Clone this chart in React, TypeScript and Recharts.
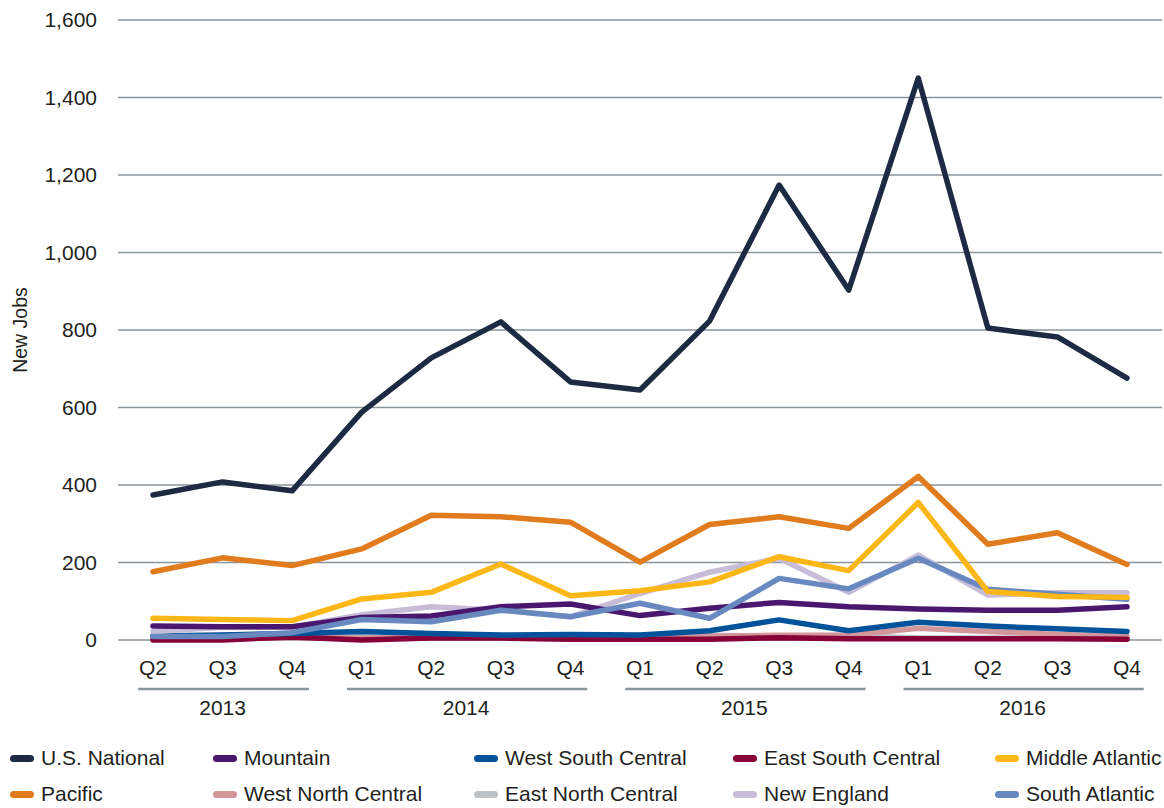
import { LineChart, Line, XAxis, YAxis, CartesianGrid, Legend } from "recharts";

const quarters = ["Q2", "Q3", "Q4", "Q1", "Q2", "Q3", "Q4", "Q1", "Q2", "Q3", "Q4", "Q1", "Q2", "Q3", "Q4"];
const years = ["2013", "2013", "2013", "2014", "2014", "2014", "2014", "2015", "2015", "2015", "2015", "2016", "2016", "2016", "2016"];

const usNational = [374, 408, 385, 588, 728, 821, 666, 645, 823, 1174, 903, 1450, 805, 782, 676];
const mountain = [36, 34, 34, 58, 62, 86, 93, 63, 82, 97, 86, 80, 77, 77, 86];
const westSouthCentral = [10, 13, 17, 22, 17, 13, 14, 13, 24, 52, 24, 46, 36, 29, 22];
const eastSouthCentral = [0, 0, 8, 0, 5, 5, 2, 2, 2, 6, 3, 3, 3, 3, 2];
const middleAtlantic = [56, 53, 50, 106, 123, 196, 114, 127, 150, 215, 179, 355, 125, 112, 110];
const pacific = [176, 212, 192, 235, 322, 318, 304, 201, 298, 318, 288, 422, 247, 277, 195];
const westNorthCentral = [5, 5, 6, 5, 8, 10, 5, 5, 10, 12, 12, 30, 22, 14, 10];
const eastNorthCentral = [12, 12, 12, 8, 8, 10, 8, 10, 12, 10, 12, 5, 5, 5, 5];
const newEngland = [22, 33, 33, 65, 86, 77, 60, 120, 175, 211, 123, 219, 116, 122, 122];
const southAtlantic = [9, 9, 19, 53, 47, 77, 60, 95, 56, 159, 132, 211, 131, 118, 105];

const yTicks = [0, 200, 400, 600, 800, 1000, 1200, 1400, 1600];

const series = [
  { key: "usNational", name: "U.S. National", color: "#1c2a43", values: usNational },
  { key: "mountain", name: "Mountain", color: "#4a176e", values: mountain },
  { key: "westSouthCentral", name: "West South Central", color: "#00539b", values: westSouthCentral },
  { key: "eastSouthCentral", name: "East South Central", color: "#870038", values: eastSouthCentral },
  { key: "middleAtlantic", name: "Middle Atlantic", color: "#fdb717", values: middleAtlantic },
  { key: "pacific", name: "Pacific", color: "#e07c1e", values: pacific },
  { key: "westNorthCentral", name: "West North Central", color: "#d3969b", values: westNorthCentral },
  { key: "eastNorthCentral", name: "East North Central", color: "#bcc2c6", values: eastNorthCentral },
  { key: "newEngland", name: "New England", color: "#c8bdd9", values: newEngland },
  { key: "southAtlantic", name: "South Atlantic", color: "#6888c0", values: southAtlantic },
];

// painting order, bottom first
const drawOrder = [
  "eastNorthCentral",
  "westNorthCentral",
  "eastSouthCentral",
  "westSouthCentral",
  "newEngland",
  "mountain",
  "southAtlantic",
  "middleAtlantic",
  "pacific",
  "usNational",
];

const data = quarters.map((q, i) => {
  const row: Record<string, number | string> = { q: `${q}-${years[i]}`, label: q };
  series.forEach((s) => {
    row[s.key] = s.values[i];
  });
  return row;
});

const font = "'Liberation Sans', Arial, sans-serif";
const textColor = "#231f20";
const gridColor = "#8a949b";
const plotLeft = 118;
const plotRight = 1162;
const edgePad = 35;
const half = (plotRight - plotLeft - 2 * edgePad) / (quarters.length - 1) / 2;

function QuarterTick(props: any) {
  const { x, y, index } = props;
  const year = years[index];
  const members = years.map((yr, i) => (yr === year ? i : -1)).filter((i) => i >= 0);
  const pos = index - members[0];
  const n = members.length;
  const mid = (n - 1) / 2;
  const showYear = pos === Math.floor(mid);
  const yearX = x + (mid - pos) * 2 * half;
  return (
    <g>
      <text x={x} y={y + 27} textAnchor="middle" fontSize={21} fontFamily={font} fill={textColor}>
        {quarters[index]}
      </text>
      {pos === 0 && (
        <line
          x1={x - half + 20}
          x2={x + (n - 1) * 2 * half + half - 18}
          y1={y + 41}
          y2={y + 41}
          stroke={gridColor}
          strokeWidth={2.5}
        />
      )}
      {showYear && (
        <text x={yearX} y={y + 67} textAnchor="middle" fontSize={21} fontFamily={font} fill={textColor}>
          {year}
        </text>
      )}
    </g>
  );
}

const legendCols = [10, 213, 474, 733, 995];

function ChartLegend() {
  return (
    <div style={{ position: "relative", width: 1164, height: 78, fontFamily: font }}>
      {series.map((s, i) => {
        const col = i % 5;
        const row = Math.floor(i / 5);
        return (
          <div
            key={s.key}
            style={{
              position: "absolute",
              left: legendCols[col],
              top: 28 + row * 36 - 12,
              height: 24,
              display: "flex",
              alignItems: "center",
              whiteSpace: "nowrap",
              fontSize: 21,
              color: textColor,
            }}
          >
            <span
              style={{
                display: "inline-block",
                width: 24,
                height: 7,
                borderRadius: 4,
                background: s.color,
                marginRight: 7,
              }}
            />
            {s.name}
          </div>
        );
      })}
    </div>
  );
}

export default function App() {
  const ordered = drawOrder.map((k) => series.find((s) => s.key === k)!);
  return (
    <div style={{ position: "absolute", left: 0, top: 0, width: 1164, height: 808, background: "#fff", overflow: "hidden" }}>
      <LineChart width={1164} height={808} data={data} margin={{ top: 20, right: 1164 - plotRight, bottom: 0, left: 0 }}>
        <CartesianGrid vertical={false} stroke={gridColor} strokeWidth={1.5} />
        <XAxis
          dataKey="q"
          axisLine={false}
          tickLine={false}
          interval={0}
          height={90}
          padding={{ left: edgePad, right: edgePad }}
          tick={<QuarterTick />}
        />
        <YAxis
          domain={[0, 1600]}
          ticks={yTicks}
          width={plotLeft}
          axisLine={false}
          tickLine={false}
          tickMargin={15}
          tickFormatter={(v: number) => v.toLocaleString("en-US")}
          tick={{ fontSize: 21, fontFamily: font, fill: textColor }}
          label={{
            value: "New Jobs",
            angle: -90,
            position: "insideLeft",
            offset: 20,
            style: { textAnchor: "middle", fontSize: 19.5, fontFamily: font, fill: textColor },
          }}
        />
        <Legend
          verticalAlign="bottom"
          wrapperStyle={{ left: 0, width: 1164 }}
          content={() => <ChartLegend />}
        />
        {ordered.map((s) => (
          <Line
            key={s.key}
            dataKey={s.key}
            name={s.name}
            type="linear"
            stroke={s.color}
            strokeWidth={5.5}
            strokeLinejoin="round"
            strokeLinecap="round"
            dot={false}
            activeDot={false}
            isAnimationActive={false}
          />
        ))}
      </LineChart>
    </div>
  );
}
